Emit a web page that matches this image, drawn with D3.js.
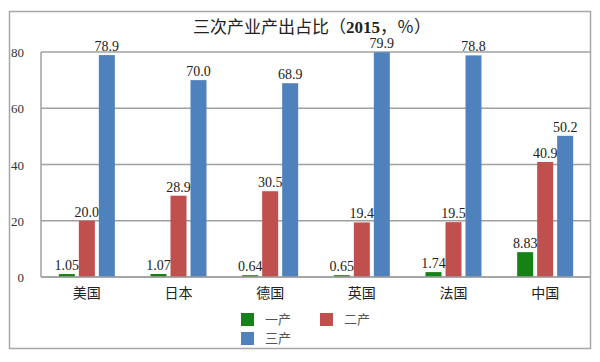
<!DOCTYPE html>
<html>
<head>
<meta charset="utf-8">
<script src="https://cdn.jsdelivr.net/npm/d3@7"></script>
<style>
  body { margin: 0; background: #fff; }
  svg { display: block; }
</style>
</head>
<body>
<svg width="600" height="362"></svg>
<script>
const countries = ["美国", "日本", "德国", "英国", "法国", "中国"];
const seriesNames = ["一产", "二产", "三产"];
const primary = [1.05, 1.07, 0.64, 0.65, 1.74, 8.83];
const secondary = [20.0, 28.9, 30.5, 19.4, 19.5, 40.9];
const tertiary = [78.9, 70.0, 68.9, 79.9, 78.8, 50.2];
const primaryLabels = ["1.05", "1.07", "0.64", "0.65", "1.74", "8.83"];
const yTicks = [0, 20, 40, 60, 80];

const colors = ["#168116", "#c0504d", "#4f81bd"];
const serif = "'Liberation Serif', 'Noto Sans CJK SC', serif";

const svg = d3.select("svg");
const margin = { top: 52, right: 9, bottom: 85, left: 41 };
const width = 600, height = 362;

// outer frame
svg.append("rect")
  .attr("x", 9.5).attr("y", 11.5)
  .attr("width", 581).attr("height", 337)
  .attr("fill", "none").attr("stroke", "#a6a6a6").attr("stroke-width", 1.5);

const x0 = d3.scaleBand().domain(countries).range([margin.left, width - margin.right]).padding(0);
const x1 = d3.scaleBand().domain(seriesNames).range([0, 56]).paddingInner(0.2);
const y = d3.scaleLinear().domain([0, 80]).range([height - margin.bottom, margin.top]);

// gridlines
svg.append("g")
  .selectAll("line")
  .data(yTicks)
  .join("line")
  .attr("x1", margin.left).attr("x2", width - margin.right)
  .attr("y1", d => y(d)).attr("y2", d => y(d))
  .attr("stroke", "#a0a0a0").attr("stroke-width", 1.5);

svg.append("line")
  .attr("x1", margin.left).attr("x2", margin.left)
  .attr("y1", y(80)).attr("y2", y(0))
  .attr("stroke", "#a0a0a0").attr("stroke-width", 1.5);

// y tick labels
svg.append("g")
  .selectAll("text")
  .data(yTicks)
  .join("text")
  .attr("x", 24).attr("y", d => y(d) + 5)
  .attr("text-anchor", "end")
  .attr("font-family", serif).attr("font-size", "13px").attr("fill", "#333")
  .text(d => d);

const rows = countries.map((c, i) => ({
  country: c,
  values: [
    { key: "一产", value: primary[i], label: primaryLabels[i] },
    { key: "二产", value: secondary[i], label: secondary[i].toFixed(1) },
    { key: "三产", value: tertiary[i], label: tertiary[i].toFixed(1) }
  ]
}));

const groups = svg.append("g")
  .selectAll("g")
  .data(rows)
  .join("g")
  .attr("transform", d => `translate(${x0(d.country) + x0.bandwidth() / 2 - 28},0)`);

groups.selectAll("rect")
  .data(d => d.values)
  .join("rect")
  .attr("x", d => x1(d.key))
  .attr("width", x1.bandwidth())
  .attr("y", d => y(d.value))
  .attr("height", d => y(0) - y(d.value))
  .attr("fill", (d, i) => colors[i]);

groups.selectAll("text")
  .data(d => d.values)
  .join("text")
  .attr("x", d => x1(d.key) + x1.bandwidth() / 2)
  .attr("y", d => y(d.value) - 4)
  .attr("text-anchor", "middle")
  .attr("font-family", serif).attr("font-size", "14px").attr("fill", "#222")
  .text(d => d.label);

// baseline again on top
svg.append("line")
  .attr("x1", margin.left).attr("x2", width - margin.right)
  .attr("y1", y(0)).attr("y2", y(0))
  .attr("stroke", "#a0a0a0").attr("stroke-width", 1.5);

// category labels
svg.append("g")
  .selectAll("text")
  .data(countries)
  .join("text")
  .attr("x", d => x0(d) + x0.bandwidth() / 2)
  .attr("y", 298)
  .attr("text-anchor", "middle")
  .attr("font-family", serif).attr("font-size", "14px").attr("fill", "#222")
  .text(d => d);

// title
const title = svg.append("text")
  .attr("x", 312).attr("y", 33)
  .attr("text-anchor", "middle")
  .attr("font-family", serif).attr("font-size", "17px").attr("fill", "#222");
title.append("tspan").text("三次产业产出占比（");
title.append("tspan").attr("font-weight", "bold").text("2015");
title.append("tspan").text("，％）");

// legend
const legendPos = [[241, 313], [320, 313], [241, 332]];
const legend = svg.append("g")
  .selectAll("g")
  .data(seriesNames)
  .join("g")
  .attr("transform", (d, i) => `translate(${legendPos[i][0]},${legendPos[i][1]})`);
legend.append("rect")
  .attr("width", 13).attr("height", 13)
  .attr("fill", (d, i) => colors[i]);
legend.append("text")
  .attr("x", 24).attr("y", 11)
  .attr("font-family", serif).attr("font-size", "13px").attr("fill", "#555")
  .text(d => d);
</script>
</body>
</html>
